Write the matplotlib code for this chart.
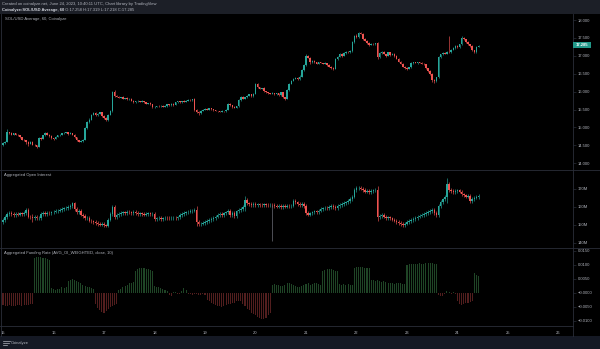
import matplotlib
matplotlib.use("Agg")
import matplotlib.pyplot as plt
from matplotlib.lines import Line2D
from matplotlib.patches import Rectangle
import numpy as np

# ---------------- data (hourly, index 0 = 15 Jun 00:00 UTC) ----------------
price_close = [
    14.56, 14.60, 14.86, 14.84, 14.80, 14.83, 14.80, 14.78, 14.72, 14.66,
    14.64, 14.58, 14.55, 14.60, 14.52, 14.50, 14.46, 14.70, 14.68, 14.78,
    14.84, 14.80, 14.76, 14.70, 14.68, 14.74, 14.78, 14.80, 14.83, 14.85,
    14.86, 14.82, 14.84, 14.80, 14.72, 14.64, 14.60, 14.62, 14.66, 14.98,
    15.15, 15.22, 15.36, 15.40, 15.34, 15.38, 15.42, 15.32, 15.26, 15.20,
    15.36, 15.45, 16.00, 15.88, 15.86, 15.83, 15.85, 15.80, 15.82, 15.78,
    15.80, 15.74, 15.70, 15.73, 15.74, 15.72, 15.74, 15.70, 15.66, 15.68,
    15.64, 15.56, 15.58, 15.60, 15.59, 15.61, 15.58, 15.60, 15.64, 15.62,
    15.66, 15.63, 15.70, 15.73, 15.70, 15.74, 15.72, 15.75, 15.77, 15.76,
    15.78, 15.50, 15.44, 15.40, 15.46, 15.50, 15.52, 15.50, 15.53, 15.51,
    15.48, 15.46, 15.45, 15.44, 15.46, 15.45, 15.50, 15.66, 15.62, 15.58,
    15.55, 15.60, 15.76, 15.86, 15.80, 15.84, 15.88, 15.92, 15.88, 15.94,
    16.22, 16.12, 16.08, 16.10, 16.02, 15.98, 15.96, 15.94, 15.96, 15.92,
    15.95, 15.90, 15.98, 15.84, 15.80, 16.04, 16.22, 16.30, 16.36, 16.38,
    16.35, 16.42, 16.60, 16.74, 17.00, 16.95, 16.82, 16.86, 16.82, 16.78,
    16.82, 16.80, 16.78, 16.80, 16.74, 16.70, 16.66, 16.64, 16.90, 16.98,
    17.05, 17.00, 17.08, 17.12, 17.10, 17.14, 17.38, 17.56, 17.52, 17.64,
    17.62, 17.48, 17.42, 17.36, 17.30, 17.34, 17.32, 17.35, 16.98, 17.08,
    17.12, 17.05, 17.00, 17.10, 17.02, 17.06, 17.00, 16.92, 16.84, 16.78,
    16.70, 16.66, 16.64, 16.68, 16.80, 16.82, 16.80, 16.82, 16.80, 16.78,
    16.76, 16.66, 16.58, 16.48, 16.32, 16.30, 16.40, 16.96, 17.04, 17.08,
    17.06, 17.12, 17.10, 17.16, 17.22, 17.28, 17.24, 17.32, 17.50, 17.46,
    17.38, 17.32, 17.28, 17.16, 17.10, 17.258, 17.285,
]
price_first_open = 14.52
# wick extensions in cents
price_wick_up = [
    2, 3, 9, 2, 2, 1, 2, 1, 2, 1, 2, 1, 3, 1, 2, 1, 2, 3, 2, 2,
    3, 2, 1, 2, 1, 2, 1, 2, 2, 1, 2, 1, 2, 1, 2, 1, 2, 2, 1, 3,
    2, 3, 2, 2, 3, 2, 2, 1, 2, 2, 2, 3, 3, 4, 2, 2, 1, 2, 1, 2,
    1, 2, 2, 1, 2, 1, 2, 1, 2, 1, 2, 1, 2, 1, 2, 1, 1, 2, 1, 2,
    1, 2, 2, 1, 2, 1, 2, 1, 2, 1, 2, 3, 2, 1, 2, 1, 2, 1, 2, 1,
    1, 2, 1, 1, 2, 1, 2, 3, 2, 1, 2, 1, 2, 3, 2, 1, 2, 2, 1, 2,
    3, 2, 2, 1, 2, 1, 2, 1, 2, 1, 2, 1, 2, 1, 2, 2, 3, 2, 2, 2,
    2, 3, 3, 2, 4, 3, 2, 2, 1, 2, 1, 2, 1, 2, 1, 2, 1, 2, 3, 2,
    3, 2, 2, 2, 1, 2, 3, 3, 4, 3, 3, 2, 2, 1, 2, 2, 1, 2, 4, 3,
    2, 2, 1, 2, 1, 2, 1, 2, 1, 2, 2, 1, 2, 2, 2, 1, 2, 1, 1, 2,
    1, 2, 1, 2, 3, 2, 2, 3, 2, 2, 2, 2, 42, 2, 2, 2, 1, 2, 4, 3,
    2, 2, 1, 2, 1, 3, 2,
]
price_wick_dn = [
    3, 2, 2, 2, 1, 2, 2, 1, 2, 2, 1, 3, 6, 2, 2, 3, 4, 2, 2, 1,
    2, 1, 2, 2, 3, 1, 2, 1, 1, 2, 1, 2, 1, 2, 2, 3, 2, 2, 2, 2,
    3, 2, 2, 2, 3, 2, 1, 2, 2, 3, 2, 2, 3, 4, 2, 2, 1, 2, 2, 1,
    2, 1, 2, 1, 1, 2, 1, 2, 2, 1, 2, 3, 2, 1, 2, 1, 2, 1, 2, 1,
    1, 2, 1, 2, 1, 2, 1, 1, 2, 1, 2, 3, 3, 4, 2, 1, 2, 1, 1, 2,
    2, 1, 2, 1, 2, 2, 1, 2, 2, 3, 2, 1, 2, 2, 1, 2, 2, 1, 2, 2,
    2, 3, 2, 1, 2, 1, 2, 1, 2, 1, 2, 2, 1, 3, 4, 2, 2, 2, 1, 2,
    2, 2, 2, 3, 2, 2, 4, 2, 1, 2, 2, 1, 2, 1, 2, 2, 2, 3, 2, 2,
    2, 2, 1, 2, 1, 2, 2, 2, 3, 2, 2, 3, 2, 2, 2, 1, 2, 1, 6, 3,
    2, 1, 2, 1, 2, 1, 2, 2, 2, 2, 2, 2, 3, 2, 1, 2, 1, 2, 1, 2,
    2, 2, 2, 3, 4, 5, 3, 3, 2, 2, 2, 1, 2, 2, 1, 2, 2, 2, 2, 2,
    2, 2, 3, 3, 2, 2, 1,
]

oi_close = [
    152.8, 154.5, 156.0, 156.5, 156.0, 155.6, 156.2, 155.8, 156.4, 156.0,
    156.6, 158.6, 154.6, 154.2, 153.8, 154.4, 153.6, 154.0, 156.0, 156.6,
    156.2, 156.8, 156.4, 157.0, 157.4, 157.8, 158.0, 158.4, 158.8, 159.2,
    159.6, 160.0, 160.4, 162.0, 159.0, 157.0, 158.0, 155.8, 155.0, 153.6,
    154.0, 152.4, 152.0, 151.6, 151.0, 150.6, 150.2, 150.8, 149.8, 149.6,
    153.0, 156.0, 160.0, 154.5, 155.6, 156.2, 156.8, 157.0, 156.6, 157.2,
    157.0, 156.8, 157.2, 156.6, 156.0, 156.4, 156.2, 155.8, 156.2, 156.4,
    156.0, 156.2, 153.2, 153.6, 153.8, 153.4, 153.6, 154.0, 153.8, 153.6,
    153.8, 154.0, 153.8, 154.2, 155.6, 156.0, 156.6, 157.0, 157.4, 157.8,
    158.0, 158.4, 151.6, 150.4, 150.8, 151.2, 151.8, 152.2, 152.8, 153.2,
    154.0, 154.6, 155.4, 156.0, 155.6, 156.4, 157.0, 158.0, 155.6, 156.8,
    155.0, 157.6, 158.4, 159.0, 160.0, 164.0, 162.0, 161.6, 161.2, 161.6,
    161.0, 161.4, 161.2, 161.0, 161.4, 161.2, 161.0, 161.2, 161.0, 160.6,
    160.2, 160.4, 160.0, 160.6, 160.2, 160.6, 160.4, 160.8, 163.4, 162.6,
    161.8, 161.2, 161.6, 160.4, 156.6, 155.8, 156.4, 157.0, 157.6, 157.2,
    158.0, 158.8, 159.2, 159.6, 159.2, 160.0, 160.4, 160.0, 159.6, 160.6,
    161.0, 161.6, 162.2, 162.6, 163.4, 164.6, 165.8, 169.6, 170.4, 170.8,
    170.2, 169.4, 168.6, 169.0, 168.4, 168.8, 169.2, 169.6, 154.4, 155.0,
    155.4, 154.6, 153.8, 154.2, 153.6, 153.0, 152.4, 151.8, 151.0, 150.4,
    150.0, 150.8, 151.6, 152.2, 152.8, 153.4, 154.0, 154.6, 155.2, 155.6,
    156.2, 156.8, 157.2, 157.8, 158.4, 156.6, 155.4, 160.6, 162.8, 164.2,
    165.4, 173.0, 169.4, 168.8, 168.4, 168.8, 169.2, 168.6, 167.0, 166.4,
    165.8, 166.2, 163.2, 164.4, 165.2, 165.6, 166.0,
]
oi_first_open = 151.8
# OI wick extension (M)
oi_wick = [
    1, 1, 1, 1, 1, 1, 1, 1, 1, 1, 1, 1, 1, 1, 2, 1, 1, 1, 1, 1,
    1, 1, 1, 1, 1, 1, 1, 1, 1, 1, 1, 1, 1, 1, 1, 1, 1, 1, 1, 1,
    1, 1, 1, 1, 1, 1, 1, 1, 1, 1, 1, 1, 1, 1, 1, 1, 1, 1, 1, 1,
    1, 1, 1, 1, 1, 1, 1, 1, 1, 1, 1, 1, 1, 1, 1, 1, 1, 1, 1, 1,
    1, 1, 1, 1, 1, 1, 1, 1, 1, 1, 1, 1, 2, 1, 1, 1, 1, 1, 1, 1,
    1, 1, 1, 1, 1, 1, 1, 1, 1, 1, 1, 1, 1, 1, 1, 2, 1, 1, 1, 1,
    1, 1, 1, 1, 1, 1, 1, 1, 1, 1, 1, 1, 1, 1, 1, 1, 1, 1, 1, 1,
    1, 1, 1, 1, 1, 1, 1, 1, 1, 1, 1, 1, 1, 1, 1, 1, 1, 1, 1, 1,
    1, 1, 1, 1, 1, 1, 1, 1, 1, 1, 1, 1, 1, 1, 1, 1, 1, 1, 2, 1,
    1, 1, 1, 1, 1, 1, 1, 1, 1, 1, 1, 1, 1, 1, 1, 1, 1, 1, 1, 1,
    1, 1, 1, 1, 1, 1, 1, 1, 1, 1, 1, 3, 1, 1, 1, 1, 1, 1, 1, 1,
    1, 1, 1, 1, 1, 1, 1,
]
oi_low_spike = {128: 141.0}

funding = [
    -0.0042,
    -0.0045, -0.0046, -0.0044, -0.0047, -0.0048, -0.0045, -0.0044, -0.0043, -0.0046, -0.0044,
    -0.0042, -0.0043, -0.0041, -0.0040,
    0.0125, 0.0128, 0.0130, 0.0128, 0.0126, 0.0124, 0.0120, 0.0118,
    0.0018, 0.0015, 0.0012, 0.0014, 0.0016, 0.0020, 0.0018, 0.0022,
    0.0042, 0.0048, 0.0050, 0.0046, 0.0044, 0.0040, 0.0036,
    0.0030, 0.0026, 0.0022, 0.0020, 0.0018, 0.0015,
    -0.0040, -0.0052, -0.0060, -0.0068, -0.0070, -0.0064, -0.0058, -0.0050, -0.0046, -0.0042, -0.0040,
    0.0012, 0.0016, 0.0020, 0.0026, 0.0030, 0.0034, 0.0036, 0.0038,
    0.0080, 0.0085, 0.0088, 0.0090, 0.0088, 0.0086, 0.0084, 0.0082, 0.0080,
    0.0024, 0.0022, 0.0020, 0.0018, 0.0016, 0.0012, 0.0006,
    -0.0006, -0.0010, 0.0004, 0.0002, -0.0004, -0.0002, 0.0006, 0.0018, 0.0010,
    -0.0002, -0.0004, -0.0006, -0.0005, -0.0004, -0.0006, -0.0007, -0.0005, -0.0008,
    -0.0025, -0.0030, -0.0036, -0.0040, -0.0042, -0.0045, -0.0048, -0.0050, -0.0046, -0.0042,
    -0.0040, -0.0038, -0.0036,
    -0.0034, -0.0030, -0.0028, -0.0030,
    -0.0040, -0.0048, -0.0056, -0.0062, -0.0070, -0.0075, -0.0080, -0.0085, -0.0090, -0.0093,
    -0.0092, -0.0088, -0.0080, -0.0070,
    0.0030, 0.0032, 0.0030, 0.0028, 0.0024, 0.0026, 0.0030, 0.0034, 0.0036, 0.0032,
    0.0028, 0.0024, 0.0020, 0.0022, 0.0026, 0.0030, 0.0032, 0.0034, 0.0030, 0.0032,
    0.0034, 0.0035, 0.0033, 0.0030,
    0.0078, 0.0082, 0.0084, 0.0085, 0.0085, 0.0083, 0.0080, 0.0078,
    0.0032, 0.0030, 0.0031, 0.0030, 0.0032, 0.0030, 0.0029,
    0.0090, 0.0092, 0.0093, 0.0093, 0.0092, 0.0091, 0.0090, 0.0088,
    0.0045, 0.0046, 0.0044, 0.0045, 0.0043, 0.0040, 0.0042, 0.0038,
    0.0036, 0.0035, 0.0034, 0.0033, 0.0034, 0.0035, 0.0034, 0.0032, 0.0033,
    0.0100, 0.0102, 0.0104, 0.0103, 0.0104, 0.0105, 0.0106, 0.0105, 0.0104, 0.0106,
    0.0108, 0.0107, 0.0106, 0.0104, 0.0102,
    -0.0008, -0.0012, -0.0010, -0.0004, 0.0006, 0.0004, -0.0002, 0.0002, -0.0004,
    -0.0030, -0.0038, -0.0042, -0.0040, -0.0036, -0.0034, -0.0032, -0.0030,
    0.0070, 0.0066, 0.0062,
]

day_labels = ["15", "16", "17", "18", "19", "20", "21", "22", "23", "24", "25", "26"]
price_ticks = [14.0, 14.5, 15.0, 15.5, 16.0, 16.5, 17.0, 17.5, 18.0]
oi_ticks = [140, 150, 160, 170]
oi_tick_labels = ["140M", "150M", "160M", "170M"]
fund_ticks = [0.015, 0.010, 0.005, 0.0, -0.005, -0.010]
fund_tick_labels = ["0.0150", "0.0100", "0.0050", "\u22120.0000", "\u22120.0050", "\u22120.0100"]

header1 = "Created on coinalyze.net, June 24, 2023, 10:40:11 UTC, Chart library by TradingView"
header2_bold = "Coinalyze:SOL/USD Average, 60"
header2_rest = " O:17.258 H:17.319 L:17.218 C:17.285"
last_price_label = "17.285"

# ---------------- style ----------------
W, H = 600, 349
UP = "#26a69a"
DN = "#ef5350"
TXT = "#b2b5be"
SEP = "#2a2e39"
BG = "#000000"
FONT = "Liberation Sans"
FS = 3.0

fig = plt.figure(figsize=(W / 100, H / 100), dpi=100, facecolor=BG)


def fx(x):
    return x / W


def fy(y):
    return 1 - y / H


def add_pane(top, bottom):
    ax = fig.add_axes([0, fy(bottom), fx(573), (bottom - top) / H])
    ax.set_facecolor(BG)
    for s in ax.spines.values():
        s.set_visible(False)
    ax.set_xlim(-1.43, 270.9)
    ax.set_xticks([])
    ax.yaxis.tick_right()
    ax.tick_params(axis="y", colors=SEP, labelcolor=TXT, labelsize=FS,
                   length=2, width=0.5, pad=1.5)
    return ax


def candles(ax, first_open, closes, up_ext, dn_ext, body_w=0.72):
    n = len(closes)
    x = np.arange(n)
    c = np.array(closes, dtype=float)
    o = np.concatenate([[first_open], c[:-1]])
    up = np.array(up_ext[:n], dtype=float)
    dn = np.array(dn_ext[:n], dtype=float)
    hi = np.maximum(o, c) + up
    lo = np.minimum(o, c) - dn
    col = [UP if cc >= oo else DN for oo, cc in zip(o, c)]
    ax.vlines(x, lo, hi, colors=col, linewidth=0.45)
    bottom = np.minimum(o, c)
    height = np.abs(c - o)
    ax.bar(x, height, bottom=bottom, width=body_w, color=col, linewidth=0)
    return hi, lo


# price pane
axp = add_pane(14, 170)
axp.set_ylim(13.81, 18.168)
n = len(price_close)
candles(axp, price_first_open, price_close,
        [v / 100 for v in price_wick_up[:n]], [v / 100 for v in price_wick_dn[:n]])
axp.set_yticks(price_ticks)
axp.set_yticklabels([f"{t:.3f}" for t in price_ticks], family=FONT)
axp.text(fx(5) / fx(573), 1 - (19 - 14) / 156, "SOL/USD Average, 60, Coinalyze",
         transform=axp.transAxes, color=TXT, fontsize=FS, family=FONT, va="center")

# OI pane
axo = add_pane(170, 248)
axo.set_ylim(137.2, 180.56)
candles(axo, oi_first_open, oi_close, oi_wick, oi_wick)
for k, v in oi_low_spike.items():
    cc = oi_close[k]
    axo.vlines([k], [v], [cc], colors=["#787b86"], linewidth=0.45)
axo.set_yticks(oi_ticks)
axo.set_yticklabels(oi_tick_labels, family=FONT)
axo.text(fx(4) / fx(573), 1 - (175 - 170) / 78, "Aggregated Open Interest",
         transform=axo.transAxes, color=TXT, fontsize=FS, family=FONT, va="center")

# Funding pane
axf = add_pane(248, 326)
axf.set_ylim(-0.01179, 0.01607)
f = np.array(funding)
fcol = ["#1f4526" if v >= 0 else "#521e1e" for v in f]
axf.bar(np.arange(len(f)), f, width=0.5, color=fcol, linewidth=0)
axf.set_yticks(fund_ticks)
axf.set_yticklabels(fund_tick_labels, family=FONT)
axf.text(fx(4) / fx(573), 1 - (253 - 248) / 78,
         "Aggregated Funding Rate (AVG_OI_WEIGHTED, close, 10)",
         transform=axf.transAxes, color=TXT, fontsize=FS, family=FONT, va="center")

# time axis labels
for i, d in enumerate(day_labels):
    xh = i * 24
    axf.annotate(d, xy=(xh, 0), xycoords=("data", "axes fraction"),
                 xytext=(0, -5.0), textcoords="offset points",
                 ha="center", va="center", color=TXT, fontsize=FS, family=FONT,
                 annotation_clip=False)

# last price tag
fig.patches.append(Rectangle((fx(573), fy(48.4)), fx(591) - fx(573), (48.4 - 42.4) / H,
                             transform=fig.transFigure, facecolor="#22998a",
                             edgecolor="none", zorder=5))
fig.text(fx(582), fy(45.4), last_price_label, color="white", fontsize=FS,
         family=FONT, ha="center", va="center", zorder=6, fontweight="bold")

# header bar
fig.patches.append(Rectangle((0, fy(14)), 1, 14 / H, transform=fig.transFigure,
                             facecolor="#1c1f27", edgecolor="none", zorder=0))
fig.text(fx(2), fy(4.2), header1, color=TXT, fontsize=FS, family=FONT, va="center")
t2 = fig.text(fx(2), fy(9.6), header2_bold, color="#d1d4dc", fontsize=FS,
              family=FONT, va="center", fontweight="bold")
fig.canvas.draw()
bb = t2.get_window_extent()
fig.text(bb.x1 / W, fy(9.6), header2_rest, color=TXT, fontsize=FS, family=FONT,
         va="center")

# bottom bar
fig.patches.append(Rectangle((0, 0), 1, (349 - 336) / H, transform=fig.transFigure,
                             facecolor="#151924", edgecolor="none", zorder=0))
for yy, x1 in ((341.0, 10), (343.0, 9), (345.0, 7)):
    fig.lines.append(Line2D([fx(2.5), fx(x1)], [fy(yy), fy(yy)], transform=fig.transFigure,
                            color=TXT, linewidth=0.5))
fig.text(fx(10.5), fy(343), "Coinalyze", color=TXT, fontsize=FS, family=FONT, va="center")

# separators
for yy in (170, 248):
    fig.lines.append(Line2D([0, 1], [fy(yy), fy(yy)], transform=fig.transFigure,
                            color=SEP, linewidth=0.6))
fig.lines.append(Line2D([0, fx(573)], [fy(326), fy(326)], transform=fig.transFigure,
                        color=SEP, linewidth=0.6))
fig.lines.append(Line2D([fx(573), fx(573)], [fy(14), fy(336)], transform=fig.transFigure,
                        color=SEP, linewidth=0.6))
fig.lines.append(Line2D([fx(1), fx(1)], [fy(14), fy(336)], transform=fig.transFigure,
                        color=SEP, linewidth=0.6))

fig.savefig("out.png", dpi=100, facecolor=BG)
